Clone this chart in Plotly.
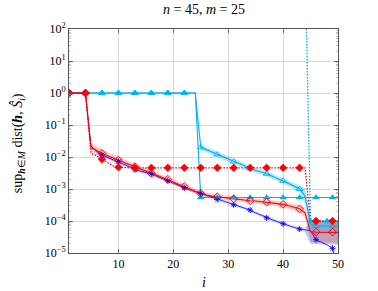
import plotly.graph_objects as go

# ---------------- data ----------------
i_vals = list(range(1, 51))

red_mean = [1.0, 1.0, 1.0, 1.0, 2.0e-2, 1.6e-2, 1.3e-2, 1.1e-2, 9.5e-3, 8.0e-3,
            6.8e-3, 5.8e-3, 5.0e-3, 4.2e-3, 3.6e-3, 3.1e-3, 2.7e-3, 2.3e-3, 2.0e-3, 1.7e-3,
            1.4e-3, 1.2e-3, 1.0e-3, 8.3e-4, 7.3e-4, 6.5e-4, 6.0e-4, 5.7e-4, 5.4e-4, 5.1e-4,
            4.9e-4, 4.7e-4, 4.5e-4, 4.3e-4, 4.2e-4, 4.0e-4, 3.9e-4, 3.7e-4, 3.5e-4, 3.3e-4,
            3.0e-4, 2.7e-4, 2.4e-4, 1.8e-4, 4.6e-5, 4.5e-5, 4.5e-5, 4.4e-5, 4.5e-5, 4.4e-5]
red_spread = [1.0, 1.0, 1.0, 1.0, 1.35, 1.35, 1.3, 1.3, 1.3, 1.28,
              1.28, 1.25, 1.25, 1.25, 1.25, 1.22, 1.22, 1.22, 1.22, 1.22,
              1.22, 1.2, 1.2, 1.2, 1.2, 1.2, 1.2, 1.2, 1.2, 1.2,
              1.2, 1.2, 1.2, 1.2, 1.22, 1.22, 1.22, 1.22, 1.25, 1.25,
              1.25, 1.28, 1.3, 1.5, 2.1, 2.1, 2.1, 2.1, 2.1, 2.1]

red_dot = [1.0, 1.0, 1.0, 1.0, 1.3e-2, 1.1e-2, 8.5e-3, 6.5e-3, 5.3e-3, 4.8e-3,
           4.6e-3, 4.6e-3, 4.6e-3, 4.6e-3, 4.6e-3, 4.6e-3, 4.6e-3, 4.6e-3, 4.6e-3, 4.6e-3,
           4.6e-3, 4.6e-3, 4.6e-3, 4.6e-3, 4.6e-3, 4.6e-3, 4.6e-3, 4.6e-3, 4.6e-3, 4.6e-3,
           4.6e-3, 4.6e-3, 4.6e-3, 4.6e-3, 4.6e-3, 4.6e-3, 4.6e-3, 4.6e-3, 4.6e-3, 4.6e-3,
           4.6e-3, 4.6e-3, 4.6e-3, 4.6e-3, 1.0e-4, 1.0e-4, 1.0e-4, 1.0e-4, 1.0e-4, 1.0e-4]

blue_mean = [1.0, 1.0, 1.0, 1.0, 2.2e-2, 1.5e-2, 1.15e-2, 9.8e-3, 8.5e-3, 7.2e-3,
             6.0e-3, 5.0e-3, 4.0e-3, 3.6e-3, 3.3e-3, 3.0e-3, 2.5e-3, 2.1e-3, 1.8e-3, 1.5e-3,
             1.3e-3, 1.1e-3, 9.5e-4, 8.3e-4, 7.3e-4, 6.2e-4, 5.4e-4, 4.7e-4, 4.1e-4, 3.6e-4,
             3.2e-4, 2.8e-4, 2.5e-4, 2.2e-4, 1.8e-4, 1.5e-4, 1.25e-4, 1.1e-4, 9.5e-5, 8.2e-5,
             7.2e-5, 6.3e-5, 5.6e-5, 5.2e-5, 5.0e-5, 2.6e-5, 2.2e-5, 1.8e-5, 1.4e-5, 3.0e-6]
blue_spread = [1.0, 1.0, 1.0, 1.0, 1.15, 1.15, 1.12, 1.12, 1.12, 1.12,
               1.12, 1.12, 1.12, 1.12, 1.12, 1.12, 1.12, 1.12, 1.12, 1.12,
               1.12, 1.12, 1.12, 1.12, 1.12, 1.12, 1.12, 1.12, 1.12, 1.12,
               1.12, 1.12, 1.12, 1.12, 1.12, 1.12, 1.12, 1.12, 1.12, 1.12,
               1.12, 1.12, 1.12, 1.12]
tail_i = [44, 45, 46, 47, 48, 49, 50]
tail_lo = [4.5e-5, 1.9e-5, 1.8e-5, 1.8e-5, 1.8e-5, 1.8e-5, 1.8e-5]
tail_hi = [6.0e-5, 1.0e-4, 1.0e-4, 1.0e-4, 1.0e-4, 1.0e-4, 1.0e-4]

cyan_mean = [1.0, 1.0, 1.0, 1.0, 1.0, 1.0, 1.0, 1.0, 1.0, 1.0,
             1.0, 1.0, 1.0, 1.0, 1.0, 1.0, 1.0, 1.0, 1.0, 1.0,
             1.0, 1.0, 1.0, 1.0, 2.0e-2, 1.7e-2, 1.4e-2, 1.2e-2, 1.0e-2, 8.5e-3,
             7.2e-3, 6.2e-3, 5.3e-3, 4.4e-3, 3.8e-3, 3.4e-3, 3.0e-3, 2.5e-3, 2.1e-3, 1.8e-3,
             1.5e-3, 1.25e-3, 1.0e-3, 6.0e-4, 8.0e-5, 7.0e-5, 7.0e-5, 7.0e-5, 7.0e-5, 7.0e-5]
cyan_spread = [1.0, 1.0, 1.0, 1.0, 1.0, 1.0, 1.0, 1.0, 1.0, 1.0,
               1.0, 1.0, 1.0, 1.0, 1.0, 1.0, 1.0, 1.0, 1.0, 1.0,
               1.0, 1.0, 1.0, 1.0, 1.2, 1.2, 1.2, 1.2, 1.2, 1.2,
               1.2, 1.2, 1.2, 1.2, 1.2, 1.2, 1.2, 1.2, 1.2, 1.2,
               1.2, 1.25, 1.3, 1.8, 1.4, 1.4, 1.4, 1.4, 1.4, 1.4]

cyan_flat = [1.0, 1.0, 1.0, 1.0, 1.0, 1.0, 1.0, 1.0, 1.0, 1.0,
             1.0, 1.0, 1.0, 1.0, 1.0, 1.0, 1.0, 1.0, 1.0, 1.0,
             1.0, 1.0, 1.0, 1.0, 5.4e-4, 5.4e-4, 5.4e-4, 5.4e-4, 5.4e-4, 5.4e-4,
             5.4e-4, 5.4e-4, 5.4e-4, 5.4e-4, 5.4e-4, 5.4e-4, 5.4e-4, 5.4e-4, 5.4e-4, 5.4e-4,
             5.4e-4, 5.4e-4, 5.4e-4, 5.4e-4, 5.4e-4, 5.4e-4, 5.4e-4, 5.4e-4, 5.4e-4, 5.4e-4]

cyan_dot = [1e4, 1e4, 1e4, 1e4, 1e4, 1e4, 1e4, 1e4, 1e4, 1e4,
            1e4, 1e4, 1e4, 1e4, 1e4, 1e4, 1e4, 1e4, 1e4, 1e4,
            1e4, 1e4, 1e4, 1e4, 1e4, 1e4, 1e4, 1e4, 1e4, 1e4,
            1e4, 1e4, 1e4, 1e4, 1e4, 1e4, 1e4, 1e4, 1e4, 1e4,
            1e4, 1e4, 1e4, 1e4, 1.0e-4, 1.0e-4, 1.0e-4, 1.0e-4, 1.0e-4, 1.0e-4]

y_tick_exps = [-5, -4, -3, -2, -1, 0, 1, 2]
x_ticks = [10, 20, 30, 40, 50]

# ---------------- styles ----------------
RED = "rgb(255,0,0)"
BLUE = "rgb(0,0,255)"
CYAN = "rgb(0,176,240)"
SERIF = "Liberation Serif"

fig = go.Figure()


def band(xs, mean, spread, color):
    n = len(spread)
    x = xs[:n]
    hi = [m * s for m, s in zip(mean[:n], spread)]
    lo = [m / s for m, s in zip(mean[:n], spread)]
    return go.Scatter(x=x + x[::-1], y=hi + lo[::-1], fill="toself", fillcolor=color,
                      line=dict(width=0), mode="lines", hoverinfo="skip", showlegend=False)


fig.add_trace(band(i_vals, red_mean, red_spread, "rgba(255,0,0,0.2)"))
fig.add_trace(band(i_vals, blue_mean, blue_spread, "rgba(0,0,255,0.15)"))
fig.add_trace(go.Scatter(x=tail_i + tail_i[::-1], y=tail_hi + tail_lo[::-1], fill="toself",
                         fillcolor="rgba(0,0,140,0.22)", line=dict(width=0), mode="lines",
                         hoverinfo="skip", showlegend=False))
fig.add_trace(band(i_vals, cyan_mean, cyan_spread, "rgba(0,176,240,0.3)"))


def line(y, color, width, dash="solid"):
    return go.Scatter(x=i_vals, y=y, mode="lines", line=dict(color=color, width=width, dash=dash),
                      showlegend=False, hoverinfo="skip")


def marks(x, y, symbol, color, size=5, lw=1.0):
    return go.Scatter(x=x, y=y, mode="markers",
                      marker=dict(symbol=symbol, size=size, color=color,
                                  line=dict(color=color, width=lw)),
                      showlegend=False, hoverinfo="skip")


fig.add_trace(line(cyan_flat, CYAN, 1.1))
fig.add_trace(line(cyan_mean, CYAN, 1.1))
fig.add_trace(line(cyan_dot, CYAN, 1.3, "1.5px,1.5px"))
fig.add_trace(line(blue_mean, BLUE, 0.8))
fig.add_trace(line(red_mean, RED, 1.1))
fig.add_trace(line(red_dot, RED, 1.3, "1.5px,1.5px"))

fig.add_trace(marks(i_vals[0::3], cyan_flat[0::3], "triangle-up", CYAN, 6, 0.5))
fig.add_trace(marks(i_vals[0::3], cyan_mean[0::3], "triangle-up-open", CYAN, 6, 0.9))
fig.add_trace(marks(i_vals[2::3], cyan_dot[2::3], "triangle-up", CYAN, 6, 0.5))
fig.add_trace(marks(i_vals[0::3], blue_mean[0::3], "asterisk-open", BLUE, 5, 0.9))
fig.add_trace(marks(i_vals[0::3], red_mean[0::3], "diamond-open", RED, 6, 1.0))
fig.add_trace(marks(i_vals[0::3], red_dot[0::3], "diamond", RED, 6, 0.5))

minor_vals = [k * 10.0 ** e for e in range(-5, 2) for k in range(2, 10)]

fig.update_layout(
    width=378, height=291,
    margin=dict(l=69, r=40, t=29, b=38),
    paper_bgcolor="white", plot_bgcolor="white",
    showlegend=False, hovermode=False,
    xaxis=dict(range=[1, 50], tickmode="array", tickvals=x_ticks,
               ticktext=[str(v) for v in x_ticks],
               ticks="inside", ticklen=4, tickcolor="#555", tickwidth=0.8,
               showline=True, linecolor="#555", linewidth=1, mirror="allticks",
               showgrid=True, gridcolor="#d0d0d0", gridwidth=0.8, zeroline=False,
               tickfont=dict(family=SERIF, size=12, color="black")),
    yaxis=dict(type="log", range=[-5, 2], tickmode="array",
               tickvals=[10.0 ** e for e in y_tick_exps],
               ticktext=["10<sup>%s</sup>" % (str(e).replace("-", "−")) for e in y_tick_exps],
               ticks="inside", ticklen=4, tickcolor="#555", tickwidth=0.8,
               minor=dict(tickmode="array", tickvals=minor_vals, ticks="inside", ticklen=2,
                          tickcolor="#999", tickwidth=0.6, showgrid=False),
               showline=True, linecolor="#555", linewidth=1, mirror="allticks",
               showgrid=True, gridcolor="#d0d0d0", gridwidth=0.8, zeroline=False,
               tickfont=dict(family=SERIF, size=12, color="black")),
    annotations=[
        dict(text="<i>n</i> = 45, <i>m</i> = 25", xref="paper", yref="paper",
             x=0.5, y=1.085, xanchor="center", yanchor="middle", showarrow=False,
             font=dict(family=SERIF, size=14, color="black")),
        dict(text="<i>i</i>", xref="paper", yref="paper",
             x=0.5, y=-0.13, xanchor="center", yanchor="middle", showarrow=False,
             font=dict(family=SERIF, size=14, color="black")),
        dict(text="sup<sub><b><i>h</i></b>∈<i>M</i></sub> dist(<b><i>h</i></b>, <i>Ŝ</i><sub><i>i</i></sub>)",
             xref="paper", yref="paper", x=-0.19, y=0.49, xanchor="center", yanchor="middle",
             textangle=-90, showarrow=False,
             font=dict(family=SERIF, size=14, color="black")),
    ],
)

fig.write_html("out.html", config={"displayModeBar": False, "staticPlot": True},
               post_script="document.body.style.margin='0px';")
